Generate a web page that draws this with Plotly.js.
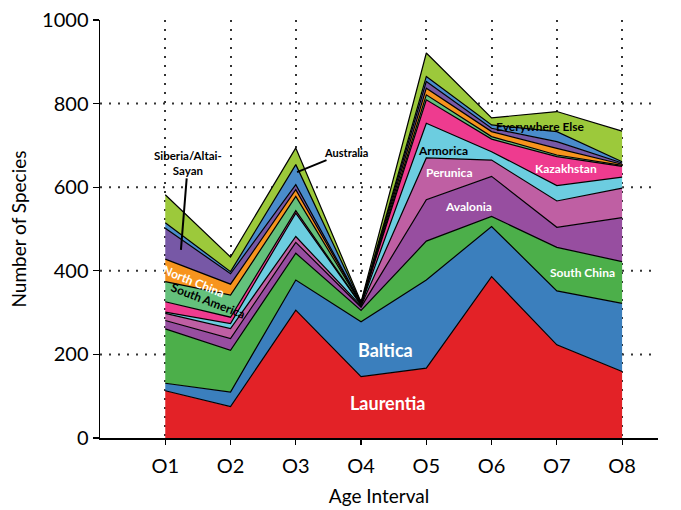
<!DOCTYPE html>
<html>
<head>
<meta charset="utf-8">
<script src="https://cdn.plot.ly/plotly-3.0.1.min.js"></script>
<style>html,body{margin:0;padding:0;background:#fff;}#chart{width:681px;height:510px;}</style>
</head>
<body>
<div id="chart"></div>
<script>
// Age intervals
const intervals = [1, 2, 3, 4, 5, 6, 7, 8];
const intervalLabels = ["O1", "O2", "O3", "O4", "O5", "O6", "O7", "O8"];

// Species counts per paleocontinent (stacked bottom to top)
const laurentia      = [113,  75, 306, 147, 167, 386, 223, 159];
const baltica        = [ 18,  35,  72, 131, 211, 120, 129, 163];
const southChina     = [130, 100,  64,  27,  93,  24, 104, 100];
const avalonia       = [ 20,  28,  26,   8,  99,  96,  48, 105];
const perunica       = [ 17,  24,  14,   3, 100,  39,  63,  71];
const armorica       = [  3,  12,  56,   2,  83,  20,  37,  26];
const kazakhstan     = [ 25,  15,   6,   1,  56,  30,  69,  26];
const southAmerica   = [ 48,  53,  34,   1,  12,   6,   4,   2];
const northChina     = [ 54,  26,  16,   1,  16,  12,  16,   3];
const siberia        = [ 74,  25,  12,   1,  16,   8,  16,   3];
const australia      = [ 13,   5,  48,   1,  12,   8,  24,   3];
const everywhereElse = [ 67,  35,  40,   2,  56,  17,  48,  73];

const seriesNames = ["Laurentia","Baltica","South China","Avalonia","Perunica","Armorica",
  "Kazakhstan","South America","North China","Siberia/Altai-Sayan","Australia","Everywhere Else"];
const seriesValues = [laurentia, baltica, southChina, avalonia, perunica, armorica,
  kazakhstan, southAmerica, northChina, siberia, australia, everywhereElse];
const seriesColors = ["#e32227","#3b7fbd","#4caf4a","#974ea0","#bf5fa3","#6ccde0",
  "#ee3b8f","#64c17c","#f7941e","#7758a6","#4a8ccb","#9cc93b"];

const traces = seriesNames.map((n, i) => ({
  type: "scatter",
  mode: "lines",
  name: n,
  x: intervals,
  y: seriesValues[i],
  stackgroup: "one",
  line: {color: "#000", width: 1.2},
  fillcolor: seriesColors[i],
  hoverinfo: "skip"
}));

const FONT = "Lato, 'Open Sans', sans-serif";
function lab(text, x, y, color, size, angle) {
  return {x: x, y: y, xref: "x", yref: "y", text: "<b>" + text + "</b>", showarrow: false,
    font: {family: FONT, size: size, color: color}, textangle: angle || 0};
}

const gridY = [200, 400, 600, 800];
const shapes = gridY.map(v => ({
  type: "line", xref: "paper", yref: "y", x0: 0, x1: 1, y0: v, y1: v,
  line: {color: "#333", width: 2, dash: "2px,7px"}, layer: "below"
}));

const layout = {
  width: 681, height: 510,
  margin: {l: 100, r: 23, t: 20, b: 72},
  paper_bgcolor: "#fff", plot_bgcolor: "#fff",
  showlegend: false,
  font: {family: FONT, color: "#000"},
  xaxis: {
    range: [0, 8.55], tickvals: intervals, ticktext: intervalLabels,
    showline: true, linecolor: "#000", linewidth: 1.5,
    ticks: "outside", ticklen: 5, tickcolor: "#000", tickwidth: 1.2,
    ticklabelstandoff: 4,
    showgrid: true, gridcolor: "#333", gridwidth: 2, griddash: "2px,7px",
    zeroline: false, tickfont: {family: FONT, size: 20, color: "#000"},
    title: {text: "Age Interval", font: {family: FONT, size: 19, color: "#000"}, standoff: 14}
  },
  yaxis: {
    range: [0, 1000], tickvals: [0, 200, 400, 600, 800, 1000],
    showline: true, linecolor: "#000", linewidth: 1.5,
    ticks: "outside", ticklen: 6, tickcolor: "#000", tickwidth: 1.2,
    showgrid: false, zeroline: false,
    tickfont: {family: FONT, size: 20, color: "#000"},
    title: {text: "Number of Species", font: {family: FONT, size: 19, color: "#000"}, standoff: 10}
  },
  shapes: shapes,
  annotations: [
    lab("Laurentia", 4.41, 84, "#fff", 18),
    lab("Baltica", 4.37, 211, "#fff", 18),
    lab("South China", 7.40, 397, "#fff", 12),
    lab("Avalonia", 5.65, 555, "#fff", 12),
    lab("Perunica", 5.35, 636, "#fff", 12),
    lab("Armorica", 5.25, 689, "#000", 12),
    lab("Kazakhstan", 7.14, 644, "#fff", 12),
    lab("Everywhere Else", 6.75, 746, "#000", 12),
    lab("North China", 1.44, 374, "#fff", 12, 22),
    lab("South America", 1.65, 328, "#000", 12, 21),
    {x: 1.24, y: 450, xref: "x", yref: "y", text: "<b>Siberia/Altai-<br>Sayan</b>",
      showarrow: true, arrowhead: 0, arrowwidth: 2, arrowcolor: "#000", ax: 7, ay: -87,
      font: {family: FONT, size: 11.5, color: "#000"}},
    {x: 3.02, y: 636, xref: "x", yref: "y", text: "<b>Australia</b>",
      showarrow: true, arrowhead: 0, arrowwidth: 2, arrowcolor: "#000", ax: 49, ay: -20,
      font: {family: FONT, size: 11, color: "#000"}}
  ]
};

Plotly.newPlot("chart", traces, layout, {displayModeBar: false, staticPlot: true});
</script>
</body>
</html>
